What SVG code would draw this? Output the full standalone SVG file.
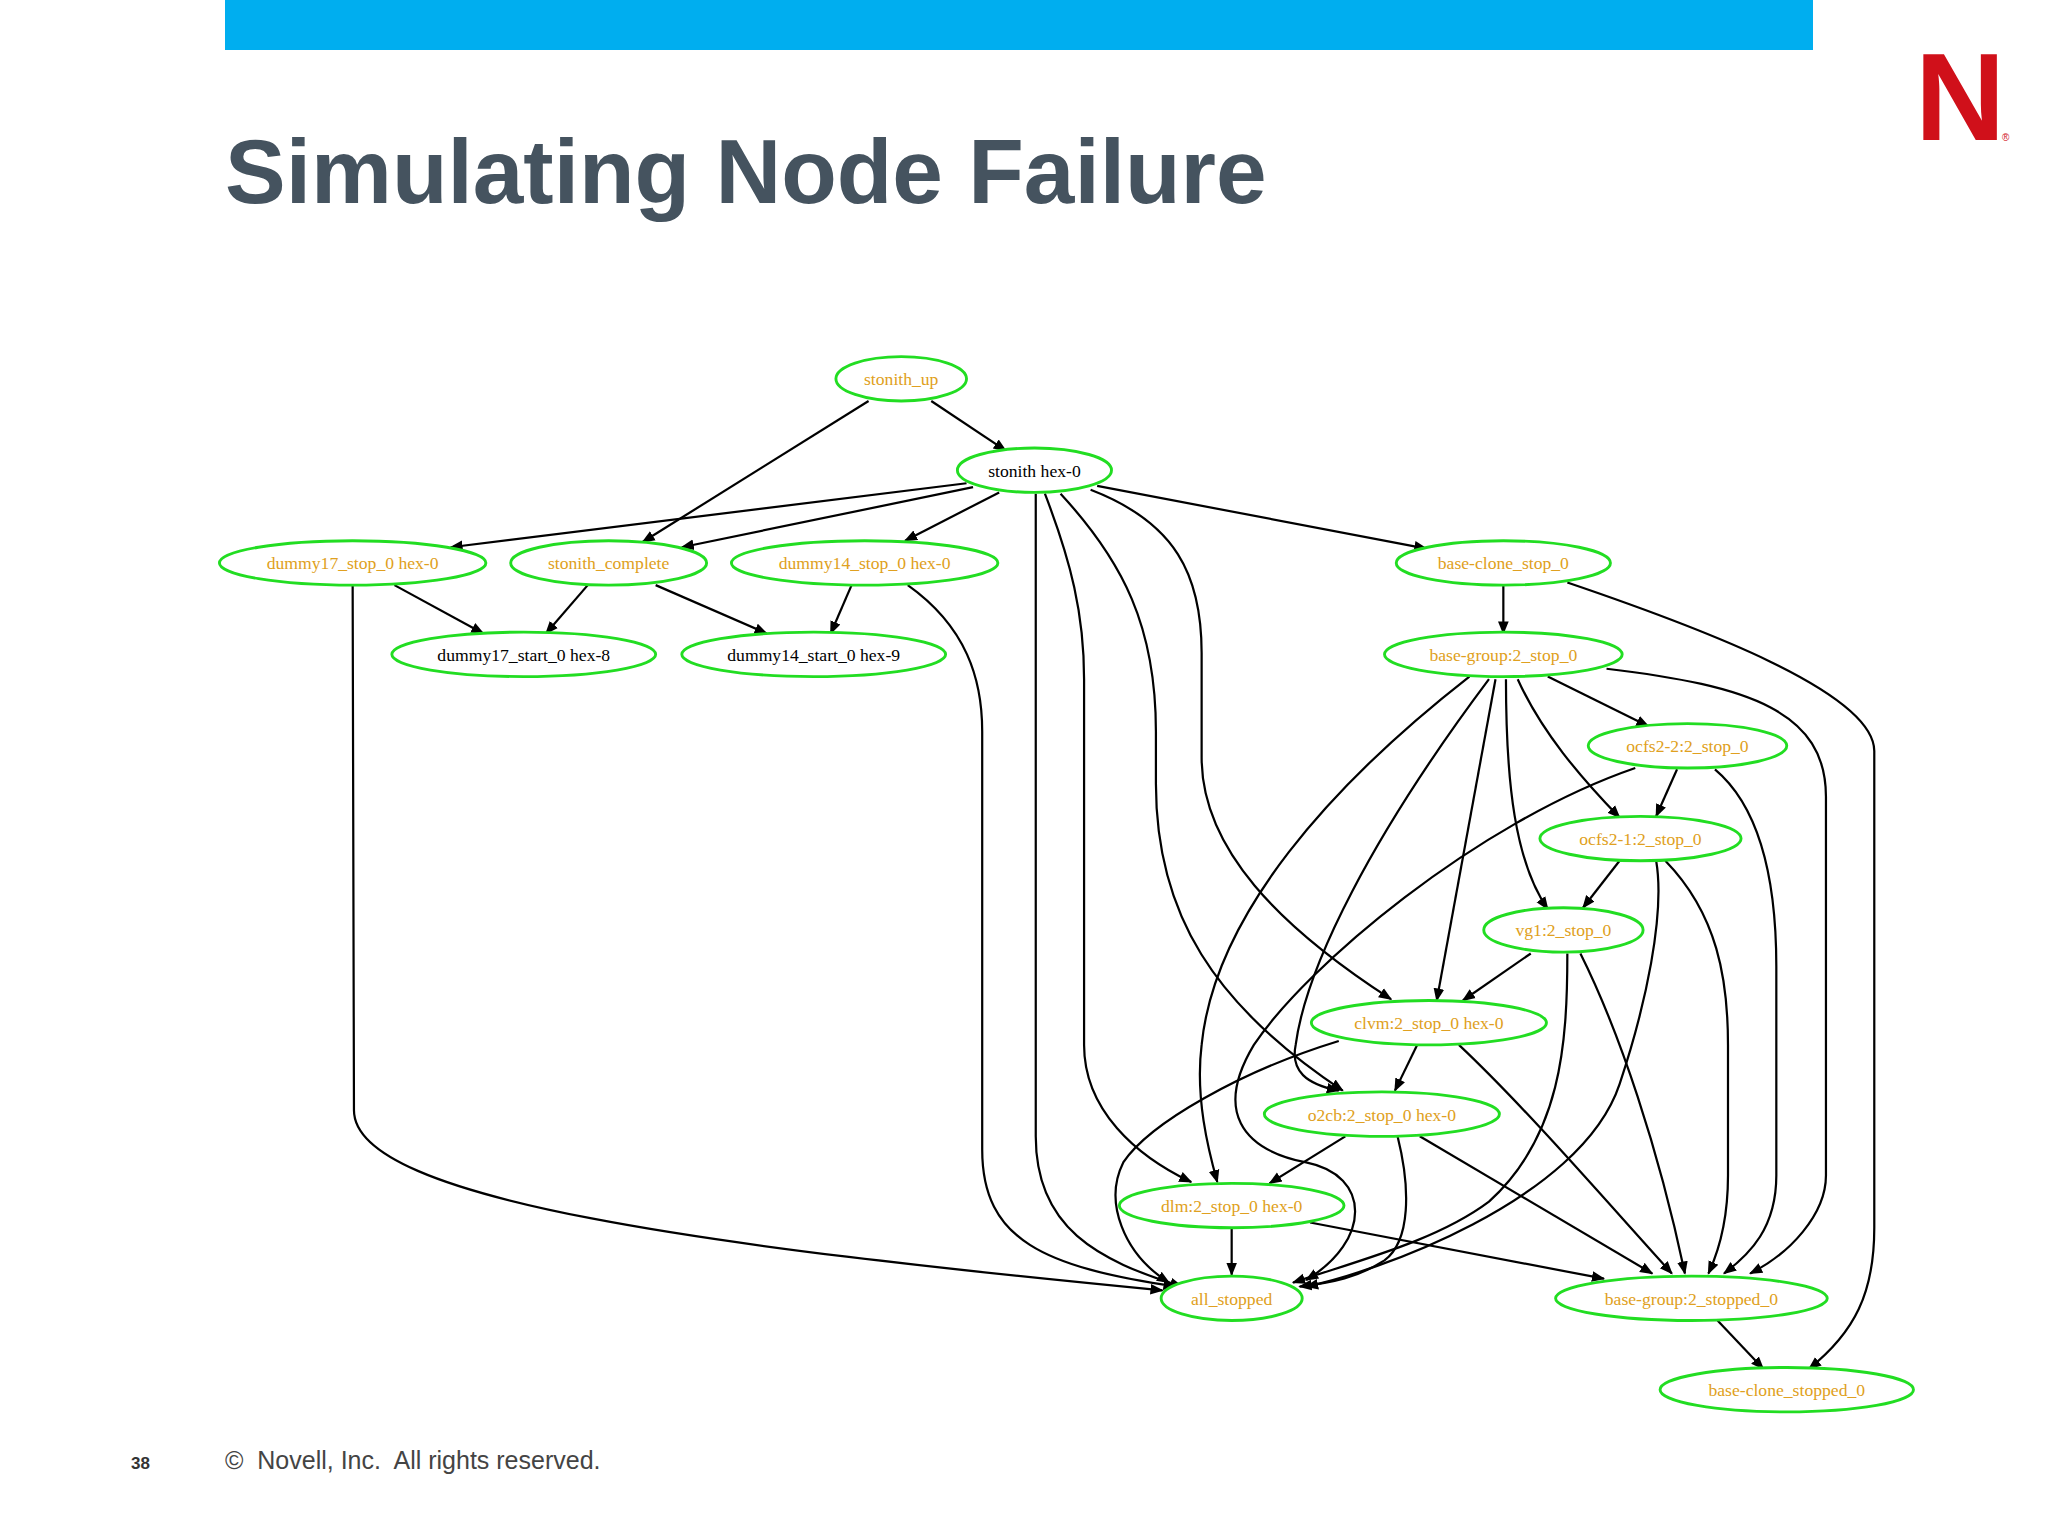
<svg xmlns="http://www.w3.org/2000/svg" width="2048" height="1536" viewBox="0 0 2048 1536">
<style>
.n ellipse{fill:#fff;stroke:#22dd22;stroke-width:2.2}
.n text{font-family:"Liberation Serif",serif;font-size:13.5px;text-anchor:middle;fill:#e0a020}
.n text.k{fill:#000}
.e path{fill:none;stroke:#000;stroke-width:1.7;marker-end:url(#a)}
</style>
<defs><marker id="a" viewBox="0 0 10 10" refX="9" refY="5" markerWidth="6" markerHeight="6" orient="auto"><path d="M0,1 L10,5 L0,9 z" fill="#000"/></marker></defs>
<rect width="2048" height="1536" fill="#fff"/>
<rect x="225" y="0" width="1588" height="50" fill="#00aeef"/>
<text x="225" y="203" font-family="Liberation Sans,Arial,sans-serif" font-weight="bold" font-size="91" fill="#45535f">Simulating Node Failure</text>
<text x="1915" y="140" font-family="Liberation Sans,Arial,sans-serif" font-weight="bold" font-size="125" fill="#d0101a">N</text>
<text x="2002" y="141" font-family="Liberation Sans,sans-serif" font-size="10" fill="#d0101a">®</text>
<text x="131" y="1469" font-family="Liberation Sans,sans-serif" font-weight="bold" font-size="17" fill="#333">38</text>
<text x="225" y="1469" font-family="Liberation Sans,sans-serif" font-size="25" fill="#444" xml:space="preserve">©  Novell, Inc.  All rights reserved.</text>
<g transform="scale(1.30612)">
<g class="e">
<path d="M713,307 L770,345"/>
<path d="M665,307 L492,415"/>
<path d="M740,370 L345,419"/>
<path d="M745,373 L522,419"/>
<path d="M765,377 L693,414"/>
<path d="M840,372 L1092,420"/>
<path d="M793,378 L793,870 C793,940 840,965 905,985"/>
<path d="M800,378 C820,430 830,470 830,520 L830,800 C830,850 870,885 912,905"/>
<path d="M812,378 C860,430 885,480 885,560 L885,600 C885,700 930,770 1028,835"/>
<path d="M835,375 C900,400 920,440 920,500 L920,580 C920,650 980,710 1065,765"/>
<path d="M302,448 L370,485"/>
<path d="M270,448 L271,850 C271,920 550,955 890,988"/>
<path d="M450,448 L418,485"/>
<path d="M502,448 L587,485"/>
<path d="M652,448 L636,485"/>
<path d="M695,448 C740,480 752,520 752,560 L752,880 C752,950 800,970 900,985"/>
<path d="M1151,448 L1151,485"/>
<path d="M1200,446 C1300,480 1435,530 1435,575 L1435,940 C1435,990 1420,1020 1385,1048"/>
<path d="M1185,518 L1262,556"/>
<path d="M1162,520 C1180,560 1210,595 1240,626"/>
<path d="M1153,520 C1153,600 1160,660 1185,696"/>
<path d="M1145,520 L1100,766"/>
<path d="M1140,520 C1050,640 1000,740 992,800 C988,820 1000,830 1025,835"/>
<path d="M1125,518 C1020,600 930,700 920,800 C915,840 925,880 932,905"/>
<path d="M1230,512 C1340,525 1398,545 1398,610 L1398,900 C1398,930 1370,960 1340,975"/>
<path d="M1284,589 L1268,625"/>
<path d="M1313,589 C1350,620 1360,680 1360,740 L1360,900 C1360,940 1340,960 1320,975"/>
<path d="M1252,588 C1130,630 1000,740 960,800 C930,850 950,880 1000,890 C1050,900 1050,950 1000,980"/>
<path d="M1240,659 L1212,695"/>
<path d="M1275,659 C1315,700 1323,750 1323,800 L1323,900 C1323,935 1315,960 1308,975"/>
<path d="M1268,659 C1275,700 1260,770 1240,830 C1210,920 1050,975 1000,985"/>
<path d="M1172,730 L1120,766"/>
<path d="M1200,730 C1200,800 1195,870 1140,920 C1100,950 1040,965 990,982"/>
<path d="M1210,730 C1240,790 1270,880 1290,975"/>
<path d="M1085,800 L1068,835"/>
<path d="M1025,797 C950,820 880,860 860,890 C845,920 860,960 895,982"/>
<path d="M1117,800 C1170,850 1230,920 1280,975"/>
<path d="M1030,870 L972,906"/>
<path d="M1070,870 C1080,910 1080,950 1060,965 C1040,978 1020,982 995,985"/>
<path d="M1087,870 L1265,975"/>
<path d="M943,940 L943,976"/>
<path d="M1003,936 L1228,979"/>
<path d="M1315,1011 L1350,1048"/>
</g>
<g class="n" id="stonith_up"><ellipse cx="690" cy="290" rx="50" ry="17"/><text x="690" y="295">stonith_up</text></g>
<g class="n" id="stonith_hex0"><ellipse cx="792" cy="360" rx="59" ry="17"/><text class="k" x="792" y="365">stonith hex-0</text></g>
<g class="n" id="dummy17_stop"><ellipse cx="270" cy="431" rx="102" ry="17"/><text x="270" y="436">dummy17_stop_0 hex-0</text></g>
<g class="n" id="stonith_complete"><ellipse cx="466" cy="431" rx="75" ry="17"/><text x="466" y="436">stonith_complete</text></g>
<g class="n" id="dummy14_stop"><ellipse cx="662" cy="431" rx="102" ry="17"/><text x="662" y="436">dummy14_stop_0 hex-0</text></g>
<g class="n" id="base_clone_stop"><ellipse cx="1151" cy="431" rx="82" ry="17"/><text x="1151" y="436">base-clone_stop_0</text></g>
<g class="n" id="dummy17_start"><ellipse cx="401" cy="501" rx="101" ry="17"/><text class="k" x="401" y="506">dummy17_start_0 hex-8</text></g>
<g class="n" id="dummy14_start"><ellipse cx="623" cy="501" rx="101" ry="17"/><text class="k" x="623" y="506">dummy14_start_0 hex-9</text></g>
<g class="n" id="base_group_stop"><ellipse cx="1151" cy="501" rx="91" ry="17"/><text x="1151" y="506">base-group:2_stop_0</text></g>
<g class="n" id="ocfs2_2"><ellipse cx="1292" cy="571" rx="76" ry="17"/><text x="1292" y="576">ocfs2-2:2_stop_0</text></g>
<g class="n" id="ocfs2_1"><ellipse cx="1256" cy="642" rx="77" ry="17"/><text x="1256" y="647">ocfs2-1:2_stop_0</text></g>
<g class="n" id="vg1"><ellipse cx="1197" cy="712" rx="61" ry="17"/><text x="1197" y="717">vg1:2_stop_0</text></g>
<g class="n" id="clvm"><ellipse cx="1094" cy="783" rx="90" ry="17"/><text x="1094" y="788">clvm:2_stop_0 hex-0</text></g>
<g class="n" id="o2cb"><ellipse cx="1058" cy="853" rx="90" ry="17"/><text x="1058" y="858">o2cb:2_stop_0 hex-0</text></g>
<g class="n" id="dlm"><ellipse cx="943" cy="923" rx="86" ry="17"/><text x="943" y="928">dlm:2_stop_0 hex-0</text></g>
<g class="n" id="all_stopped"><ellipse cx="943" cy="994" rx="54" ry="17"/><text x="943" y="999">all_stopped</text></g>
<g class="n" id="base_group_stopped"><ellipse cx="1295" cy="994" rx="104" ry="17"/><text x="1295" y="999">base-group:2_stopped_0</text></g>
<g class="n" id="base_clone_stopped"><ellipse cx="1368" cy="1064" rx="97" ry="17"/><text x="1368" y="1069">base-clone_stopped_0</text></g>
</g>
</svg>
